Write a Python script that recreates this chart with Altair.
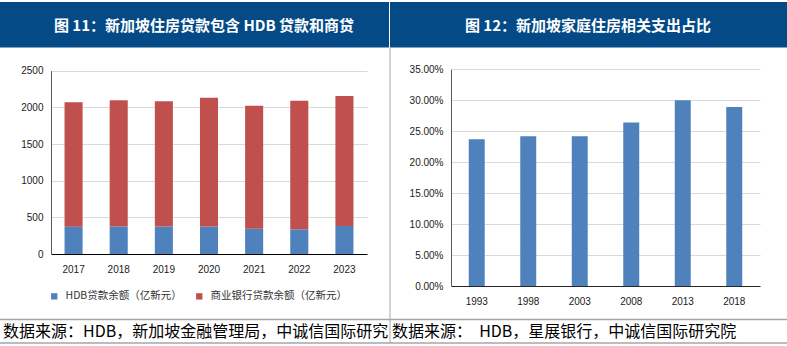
import altair as alt
import pandas as pd

W, H = 787, 346

# ---------------- data ----------------
years_l = ["2017", "2018", "2019", "2020", "2021", "2022", "2023"]
hdb_loans = [372, 375, 375, 375, 345, 337, 382]
bank_loans = [1697, 1721, 1707, 1757, 1678, 1754, 1773]
series_names = ["HDB贷款余额（亿新元）", "商业银行贷款余额（亿新元）"]
y_ticks_l = [0, 500, 1000, 1500, 2000, 2500]

years_r = ["1993", "1998", "2003", "2008", "2013", "2018"]
housing_share = [0.237, 0.242, 0.242, 0.264, 0.300, 0.289]
y_ticks_r = [0, 0.05, 0.10, 0.15, 0.20, 0.25, 0.30, 0.35]

titles = ["图 11：新加坡住房贷款包含 HDB 贷款和商贷", "图 12：新加坡家庭住房相关支出占比"]
captions = ["数据来源：HDB，新加坡金融管理局，中诚信国际研究",
            "数据来源：\u00a0\u00a0HDB，星展银行，中诚信国际研究院"]

# ---------------- tables ----------------
rows = []
for y, a, b in zip(years_l, hdb_loans, bank_loans):
    rows.append({"year": y, "series": series_names[0], "value": a, "ord": 0})
    rows.append({"year": y, "series": series_names[1], "value": b, "ord": 1})
df_l = pd.DataFrame(rows)
df_r = pd.DataFrame({"year": years_r, "share": housing_share})

NUM_FONT = "Liberation Sans"
CJK_FONT = "Noto Sans CJK SC"
BAR_BLUE = "#4F81BD"
BAR_RED = "#C0504D"
HEAD_BLUE = "#034A86"
LINE_GRAY = "#A6A6A6"

one = pd.DataFrame({"k": [0]})

# ---------------- decorations ----------------
bar_left = alt.Chart(one).mark_rect(color=HEAD_BLUE).encode(
    x=alt.value(0), x2=alt.value(389), y=alt.value(2), y2=alt.value(47.5))
bar_right = alt.Chart(one).mark_rect(color=HEAD_BLUE).encode(
    x=alt.value(390), x2=alt.value(787), y=alt.value(2), y2=alt.value(47.5))

title_l = alt.Chart(pd.DataFrame({"t": [titles[0]]})).mark_text(
    font=CJK_FONT, fontSize=15, fontWeight="bold", color="white",
    align="center", baseline="middle").encode(
    x=alt.value(204), y=alt.value(25.5), text="t:N")
title_r = alt.Chart(pd.DataFrame({"t": [titles[1]]})).mark_text(
    font=CJK_FONT, fontSize=15, fontWeight="bold", color="white",
    align="center", baseline="middle").encode(
    x=alt.value(588), y=alt.value(25.5), text="t:N")

hline1 = alt.Chart(one).mark_rule(color=LINE_GRAY, strokeWidth=1.5).encode(
    x=alt.value(0), x2=alt.value(787), y=alt.value(319.5))
hline2 = alt.Chart(one).mark_rule(color=LINE_GRAY, strokeWidth=1.5).encode(
    x=alt.value(0), x2=alt.value(787), y=alt.value(343))
vline = alt.Chart(one).mark_rule(color=LINE_GRAY, strokeWidth=1).encode(
    x=alt.value(390), y=alt.value(47.5), y2=alt.value(343))

cap_l = alt.Chart(pd.DataFrame({"t": [captions[0]]})).mark_text(
    font=CJK_FONT, fontSize=16, color="#000000",
    align="left", baseline="middle").encode(
    x=alt.value(3), y=alt.value(332), text="t:N")
cap_r = alt.Chart(pd.DataFrame({"t": [captions[1]]})).mark_text(
    font=CJK_FONT, fontSize=16, color="#000000",
    align="left", baseline="middle").encode(
    x=alt.value(392), y=alt.value(332), text="t:N")

# ---------------- left chart ----------------
left = alt.Chart(df_l).mark_bar().encode(
    x=alt.X("year:N", sort=years_l,
            scale=alt.Scale(range=[51, 367], paddingInner=0.6, paddingOuter=0.3),
            axis=alt.Axis(orient="bottom", offset=-(H - 254), title=None, labelAngle=0,
                          ticks=False, grid=False, domainColor="#000000", domainWidth=1,
                          labelPadding=10, labelFont=NUM_FONT, labelFontSize=10,
                          labelColor="#1a1a1a")),
    y=alt.Y("value:Q", stack="zero",
            scale=alt.Scale(domain=[0, 2500], range=[254, 70.7], nice=False),
            axis=alt.Axis(orient="left", offset=-51, values=y_ticks_l, format="d",
                          title=None,
                          ticks=False, grid=True, gridColor="#D9D9D9", gridWidth=1,
                          domainColor="#595959", domainWidth=1,
                          labelPadding=8, labelFont=NUM_FONT, labelFontSize=10,
                          labelColor="#1a1a1a")),
    color=alt.Color("series:N", sort=series_names,
                    scale=alt.Scale(domain=series_names, range=[BAR_BLUE, BAR_RED]),
                    legend=alt.Legend(orient="none", legendX=49, legendY=291,
                                      direction="horizontal", title=None,
                                      symbolType="square", symbolSize=40,
                                      symbolStrokeWidth=0, labelFont=CJK_FONT,
                                      labelFontSize=10.5, labelColor="#333333",
                                      labelOffset=6, columnPadding=12,
                                      labelLimit=300, padding=0)),
    order=alt.Order("ord:Q", sort="ascending"),
)

# ---------------- right chart ----------------
right = alt.Chart(df_r).mark_bar(color=BAR_BLUE).encode(
    x=alt.X("year:N", sort=years_r,
            scale=alt.Scale(range=[451, 760], paddingInner=0.69, paddingOuter=0.345),
            axis=alt.Axis(orient="bottom", offset=-(H - 286), title=None, labelAngle=0,
                          ticks=False, grid=False, domainColor="#262626", domainWidth=1,
                          labelPadding=10, labelFont=NUM_FONT, labelFontSize=10,
                          labelColor="#1a1a1a")),
    y=alt.Y("share:Q",
            scale=alt.Scale(domain=[0, 0.35], range=[286, 69.3], nice=False),
            axis=alt.Axis(orient="left", offset=-451, values=y_ticks_r, format=".2%",
                          title=None, ticks=False, grid=True, gridColor="#D9D9D9",
                          gridWidth=1, domainColor="#595959", domainWidth=1,
                          labelPadding=8, labelFont=NUM_FONT, labelFontSize=10,
                          labelColor="#1a1a1a")),
)

chart = alt.layer(
    bar_left, bar_right, title_l, title_r, hline1, hline2, vline, cap_l, cap_r,
    left, right,
).resolve_scale(
    x="independent", y="independent", color="independent"
).properties(
    width=W, height=H, padding=0,
    autosize=alt.AutoSizeParams(type="none"),
    background="white",
).configure_view(stroke=None)

chart.save("out.html", embed_options={"renderer": "svg", "actions": False})
